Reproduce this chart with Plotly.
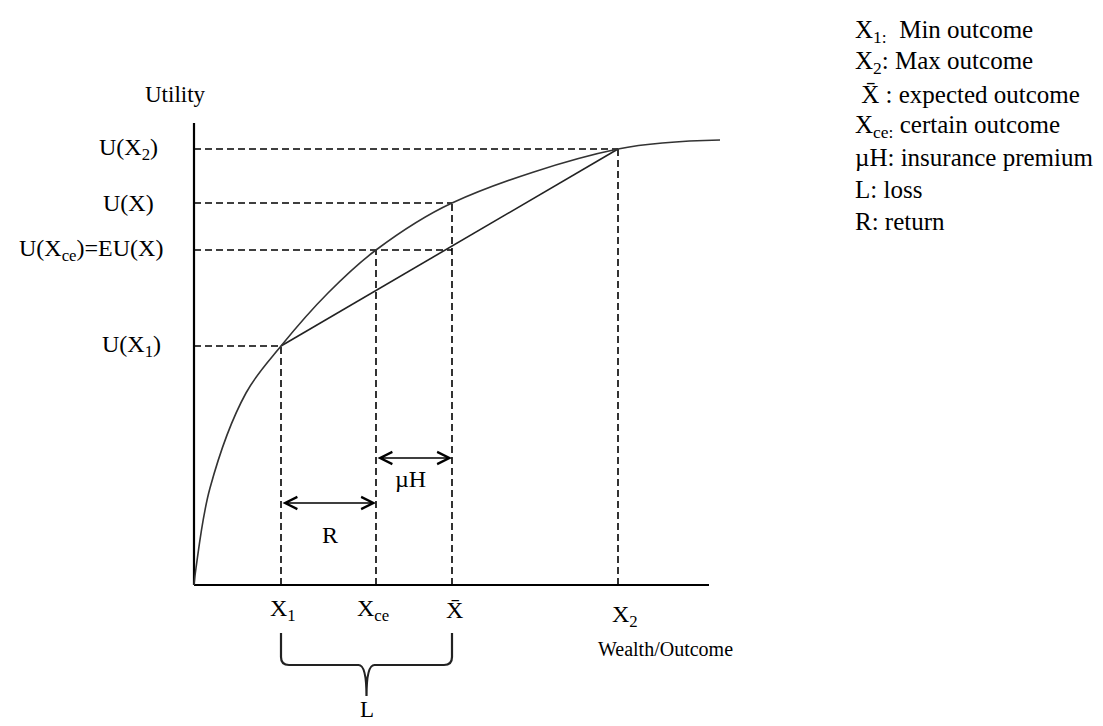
import plotly.graph_objects as go

# ---- data (diagram values, in outcome / utility units) ----
outcome_labels = ["X<sub>1</sub>", "X<sub>ce</sub>", "X\u0304", "X<sub>2</sub>"]
outcome_x = [87, 182, 258, 424]          # X1, Xce, Xbar, X2
utility_labels = ["U(X<sub>1</sub>)", "U(X<sub>ce</sub>)=EU(X)", "U(X)", "U(X<sub>2</sub>)"]
utility_y = [239, 335, 382, 436]         # U(X1), U(Xce)=EU, U(Xbar), U(X2)
curve_x = [0, 2, 16, 52, 87, 134, 182, 258, 424, 526]
curve_y = [0, 17, 97, 192, 239, 292, 335, 382, 436, 445]
axis_x_end = 515
axis_y_end = 462
legend_lines = [
    "X<sub>1:</sub>  Min outcome",
    "X<sub>2</sub>: Max outcome",
    " X\u0304 : expected outcome",
    "X<sub>ce:</sub> certain outcome",
    "\u00b5H: insurance premium",
    "L: loss",
    "R: return",
]

# label placement (layout only)
ylabel_right = [-31, -29, -38, -34]
xlabel_dx = [2, -3, 2, 7]
xlabel_y = [-25, -25, -25, -31]

X1, Xce, Xbar, X2 = outcome_x
U1, Uce, Ubar, U2 = utility_y

FONT = "Liberation Serif"
BLACK = "#000000"
DASH = "7px,4px"

fig = go.Figure()

def seg(x0, y0, x1, y1, dash=None, width=1.6, color=BLACK):
    fig.add_trace(go.Scatter(x=[x0, x1], y=[y0, y1], mode="lines",
                             line=dict(color=color, width=width, dash=dash),
                             hoverinfo="skip", showlegend=False))

# axes
seg(0, 0, axis_x_end, 0, width=2.2)
seg(0, 0, 0, axis_y_end, width=2.2)

# dashed guides
seg(0, U1, X1, U1, dash=DASH)
seg(0, Uce, Xbar, Uce, dash=DASH)
seg(0, Ubar, Xbar, Ubar, dash=DASH)
seg(0, U2, X2, U2, dash=DASH)
seg(X1, 0, X1, U1, dash=DASH)
seg(Xce, 0, Xce, Uce, dash=DASH)
seg(Xbar, 0, Xbar, Ubar, dash=DASH)
seg(X2, 0, X2, U2, dash=DASH)

# chord
seg(X1, U1, X2, U2, width=1.6, color="#222222")

# utility curve
fig.add_trace(go.Scatter(x=curve_x, y=curve_y, mode="lines",
                         line=dict(color="#333333", width=1.6, shape="spline", smoothing=1.0),
                         hoverinfo="skip", showlegend=False))

annotations = []

def txt(x, y, text, size=24, xanchor="center", yanchor="middle"):
    annotations.append(dict(x=x, y=y, xref="x", yref="y", text=text, showarrow=False,
                            xanchor=xanchor, yanchor=yanchor,
                            font=dict(family=FONT, size=size, color=BLACK)))

# y labels
for lab, u, xr in zip(utility_labels, utility_y, ylabel_right):
    txt(xr, u, lab, xanchor="right")
# x labels
for lab, x, dx, yy in zip(outcome_labels, outcome_x, xlabel_dx, xlabel_y):
    txt(x + dx, yy, lab)

txt(-19, 491, "Utility", size=23)
txt(471, -64, "Wealth/Outcome", size=20)

# double arrows R and muH
def darrow(xa, xb, y):
    annotations.append(dict(x=xb, y=y, ax=xa, ay=y, xref="x", yref="y", axref="x", ayref="y",
                            text="", showarrow=True, arrowhead=5, startarrowhead=5,
                            arrowside="end+start", arrowsize=1.6, startarrowsize=1.6,
                            arrowwidth=1.5, arrowcolor=BLACK, standoff=0, startstandoff=0))

darrow(X1, Xce, 82)
darrow(Xce, Xbar, 127)
txt((X1 + Xce) / 2 + 1, 50, "R")
txt((Xce + Xbar) / 2 - 4, 106, "\u00b5H")

# brace under X1..Xbar labelled L
xm = (X1 + Xbar) / 2
yt, yh, yb, r = -48, -80, -111, 8
path = (f"M {X1},{yt} L {X1},{yh + r} Q {X1},{yh} {X1 + r},{yh} "
        f"L {xm - r},{yh} Q {xm},{yh} {xm},{yb} "
        f"Q {xm},{yh} {xm + r},{yh} L {Xbar - r},{yh} Q {Xbar},{yh} {Xbar},{yh + r} L {Xbar},{yt}")
fig.add_shape(type="path", path=path, xref="x", yref="y",
              line=dict(color="#222222", width=2.2))
txt(xm, -124, "L", size=23)

# legend block (top right)
for i, line in enumerate(legend_lines):
    txt(659, 554 - i * 31.7, line, size=25, xanchor="left")

fig.update_layout(
    width=1103, height=726,
    margin=dict(l=0, r=0, t=0, b=0),
    paper_bgcolor="white", plot_bgcolor="white",
    xaxis=dict(range=[-186, 917], visible=False, fixedrange=True),
    yaxis=dict(range=[-149, 577], visible=False, fixedrange=True),
    annotations=annotations,
    showlegend=False,
)

fig.write_html("out.html")
